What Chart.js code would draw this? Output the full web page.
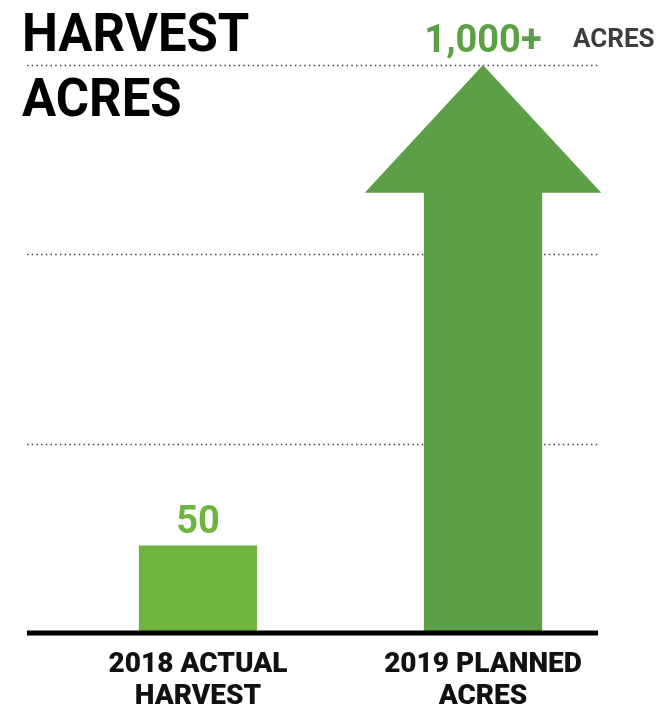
<!DOCTYPE html>
<html>
<head>
<meta charset="utf-8">
<script src="https://cdn.jsdelivr.net/npm/chart.js@4.4.1/dist/chart.umd.min.js"></script>
<style>
  html, body { margin: 0; padding: 0; background: #fff; }
  #wrap { position: relative; width: 661px; height: 709px; }
  #title {
    position: absolute; left: 22px; top: 1px; margin: 0;
    font-family: Roboto, sans-serif;
    font-weight: 700; font-size: 53px; line-height: 65px; color: #000;
    transform: scaleX(0.96); transform-origin: left top;
  }
  #unit {
    position: absolute; left: 573px; top: 23px;
    font-family: Roboto, sans-serif; font-weight: 700; font-size: 26px;
    line-height: 30px; color: #3d3d3d;
  }
</style>
</head>
<body>
<div id="wrap">
  <canvas id="chart" width="661" height="709"></canvas>
  <h1 id="title">HARVEST<br>ACRES</h1>
  <div id="unit">ACRES</div>
</div>
<script>
// data
var categories = [['2018 ACTUAL', 'HARVEST'], ['2019 PLANNED', 'ACRES']];
var acres = [50, 1000];
var valueLabels = ['50', '1,000+'];
var barColors = ['#6fb43f', '#5c9f46'];
var drawAsArrow = [false, true];

// dotted guides + thick baseline, a bit shifted from the plot area like the original
var guides = {
	id: 'guides',
	beforeDatasetsDraw: function(chart) {
		var ctx = chart.ctx;
		var area = chart.chartArea;
		var y = chart.scales.y;
		ctx.save();
		ctx.strokeStyle = '#444';
		ctx.lineWidth = 1.5;
		ctx.setLineDash([1.5, 3.2]);
		for (var k = 1; k <= 3; k++) {
			var py = Math.round(y.getPixelForDecimal(k / 3)) + 0.5;
			ctx.beginPath();
			ctx.moveTo(area.left - 28.5, py);
			ctx.lineTo(area.right - 25.5, py);
			ctx.stroke();
		}
		ctx.restore();
	},
	afterDatasetsDraw: function(chart) {
		var ctx = chart.ctx;
		var area = chart.chartArea;
		var meta = chart.getDatasetMeta(0);

		// arrow for the planned bar
		meta.data.forEach(function(bar, i) {
			if (!drawAsArrow[i]) return;
			var p = bar.getProps(['x', 'y', 'base', 'width'], true);
			var half = p.width / 2;
			var headH = p.width * 1.08;
			var headHalf = p.width;
			ctx.save();
			ctx.fillStyle = barColors[i];
			ctx.beginPath();
			ctx.moveTo(p.x, p.y);
			ctx.lineTo(p.x + headHalf, p.y + headH);
			ctx.lineTo(p.x + half, p.y + headH);
			ctx.lineTo(p.x + half, p.base);
			ctx.lineTo(p.x - half, p.base);
			ctx.lineTo(p.x - half, p.y + headH);
			ctx.lineTo(p.x - headHalf, p.y + headH);
			ctx.closePath();
			ctx.fill();
			ctx.restore();
		});

		// baseline
		ctx.save();
		ctx.strokeStyle = '#000';
		ctx.lineWidth = 5;
		ctx.beginPath();
		ctx.moveTo(area.left - 28.5, area.bottom);
		ctx.lineTo(area.right - 27.5, area.bottom);
		ctx.stroke();

		// value labels
		ctx.font = '700 38px Roboto';
		ctx.textAlign = 'center';
		ctx.textBaseline = 'alphabetic';
		meta.data.forEach(function(bar, i) {
			ctx.fillStyle = barColors[i];
			ctx.fillText(valueLabels[i], bar.x, bar.y - 13);
		});
		ctx.restore();
	}
};

var canvas = document.querySelector('#chart');

new Chart(canvas, {
	type: 'bar',
	data: {
		labels: categories,
		datasets: [
			{
				label: 'Acres',
				data: acres,
				backgroundColor: barColors.map(function(c, i) { return drawAsArrow[i] ? 'rgba(0,0,0,0)' : c; }),
				borderWidth: 0,
				categoryPercentage: 1,
				barPercentage: 0.415
			}
		]
	},
	options: {
		responsive: false,
		animation: false,
		layout: {
			padding: { top: 65, left: 55.5, right: 35.5, bottom: 0 }
		},
		plugins: {
			legend: { display: false },
			tooltip: { enabled: false }
		},
		scales: {
			x: {
				grid: { display: false, drawTicks: false },
				border: { display: false },
				afterFit: function(scale) { scale.height = 76; },
				ticks: {
					color: '#111',
					padding: 16,
					maxRotation: 0,
					autoSkip: false,
					font: { family: 'Roboto', weight: '900', size: 28, lineHeight: 1.15 }
				}
			},
			y: {
				type: 'logarithmic',
				display: false,
				min: 29,
				max: 1000
			}
		}
	},
	plugins: [guides]
});
</script>
</body>
</html>
